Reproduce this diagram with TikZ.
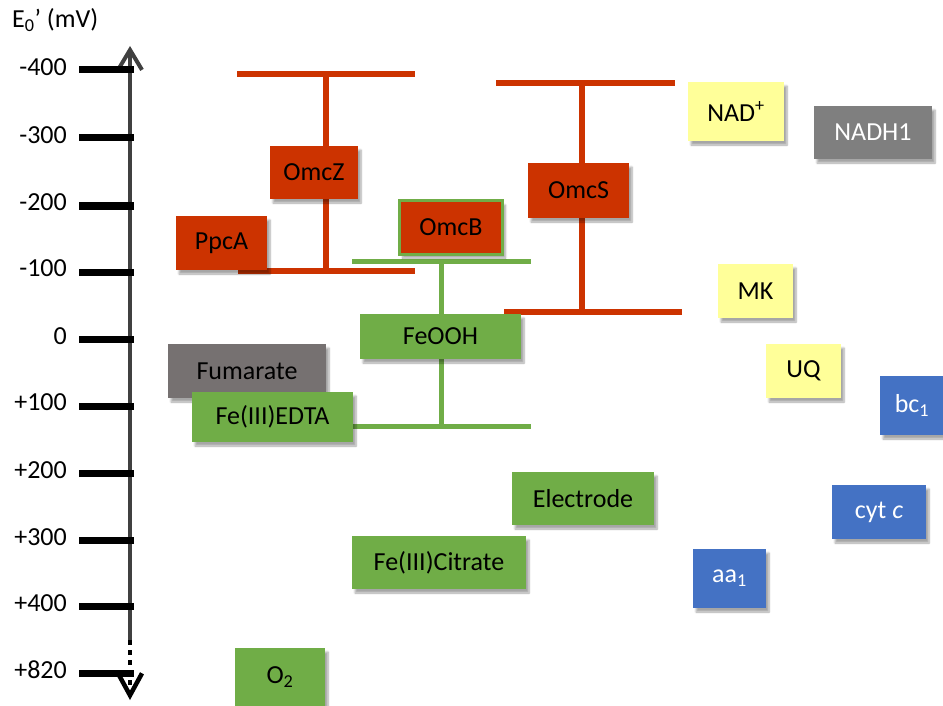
\documentclass[tikz,border=0pt]{standalone}
\usepackage{fontspec}
\setmainfont{Carlito}
\usetikzlibrary{arrows.meta,shadows.blur}
\definecolor{cred}{RGB}{204,51,0}
\definecolor{cgreen}{RGB}{112,173,71}
\definecolor{cyellow}{RGB}{255,255,153}
\definecolor{cgray}{RGB}{127,127,127}
\definecolor{cwarm}{RGB}{118,113,113}
\definecolor{cblue}{RGB}{68,114,196}
\definecolor{caxis}{RGB}{64,64,64}
\tikzset{
  box/.style={rectangle, inner sep=0pt, font=\fontsize{26}{30}\selectfont,
    blur shadow={shadow xshift=3pt, shadow yshift=-4pt, shadow opacity=35, shadow blur steps=6}},
  redbox/.style={box, fill=cred, text=black},
  greenbox/.style={box, fill=cgreen, text=black},
  yellowbox/.style={box, fill=cyellow, text=black},
  graybox/.style={box, fill=cgray, text=white},
  warmbox/.style={box, fill=cwarm, text=black},
  bluebox/.style={box, fill=cblue, text=white},
  redbar/.style={draw=cred, line width=5.5pt},
  greenbar/.style={draw=cgreen, line width=5pt},
  tick/.style={draw=black, line width=7pt},
  ticklabel/.style={anchor=east, inner sep=0pt, font=\fontsize{26}{30}\selectfont}
}
\begin{document}
\begin{tikzpicture}[x=1pt,y=1pt]
\useasboundingbox (0,0) rectangle (943,-706);

% axis title
\node[anchor=west, inner sep=0pt, font=\fontsize{26}{30}\selectfont] (title) at (12,-20) {E\textsubscript{0}’ (mV)};

% axis
\coordinate (axbase) at (130,-640);
\coordinate (axtop) at (130,-46);
\coordinate (axbot) at (130,-700);
\draw[draw=caxis, line width=4pt, -{Straight Barb[length=20pt,width=24pt]}] (axbase) -- (axtop);
\draw[draw=black, line width=4.5pt, dash pattern=on 5pt off 5pt, -{Straight Barb[length=22pt,width=24pt]}] (axbase) -- (axbot);

% ticks and labels
\foreach \lab/\ty/\ly/\nm in {-400/70/67/a,-300/138/135/b,-200/206/202/c,-100/272/268/d,0/339/336/e,+100/406/402/f,+200/473/470/g,+300/540/537/h,+400/606/603/i,+820/673/670/j}{
  \coordinate (t\nm l) at (79,-\ty);
  \coordinate (t\nm r) at (134,-\ty);
  \draw[tick] (t\nm l) -- (t\nm r);
  \node[ticklabel] (lab\nm) at (67,-\ly) {\lab};
}

% OmcZ bar
\coordinate (zt1) at (237,-74);  \coordinate (zt2) at (415,-74);
\coordinate (zb1) at (238,-271); \coordinate (zb2) at (415,-271);
\coordinate (zm1) at (326,-74);  \coordinate (zm2) at (326,-271);
\draw[redbar] (zt1) -- (zt2);
\draw[redbar] (zb1) -- (zb2);
\draw[redbar] (zm1) -- (zm2);

% OmcS bar
\coordinate (st1) at (496,-83);  \coordinate (st2) at (675,-83);
\coordinate (sb1) at (504,-312); \coordinate (sb2) at (682,-312);
\coordinate (sm1) at (582,-83);  \coordinate (sm2) at (582,-312);
\draw[redbar] (st1) -- (st2);
\draw[redbar] (sb1) -- (sb2);
\draw[redbar] (sm1) -- (sm2);

% green bar
\coordinate (gt1) at (352,-261); \coordinate (gt2) at (531,-261);
\coordinate (gb1) at (325,-426); \coordinate (gb2) at (531,-426);
\coordinate (gm1) at (441,-261); \coordinate (gm2) at (441,-426);
\draw[greenbar] (gt1) -- (gt2);
\draw[greenbar] (gb1) -- (gb2);
\draw[greenbar] (gm1) -- (gm2);

% red boxes
\node[redbox, minimum width=91, minimum height=54] (ppca) at (221.5,-243) {PpcA};
\node[redbox, minimum width=88, minimum height=53] (omcz) at (314,-172.5) {OmcZ};
\node[redbox, minimum width=101, minimum height=55] (omcs) at (578.5,-190.5) {OmcS};
\node[redbox, draw=cgreen, line width=3pt, minimum width=103, minimum height=53] (omcb) at (451,-227.5) {OmcB};

% green and gray boxes
\node[greenbox, minimum width=161, minimum height=45] (feooh) at (440.5,-336.5) {FeOOH};
\node[warmbox, minimum width=158, minimum height=54] (fum) at (247,-371) {Fumarate};
\node[greenbox, minimum width=161, minimum height=50] (edta) at (272.5,-417) {Fe(III)EDTA};
\node[greenbox, minimum width=142, minimum height=53] (elec) at (583,-498.5) {Electrode};
\node[greenbox, minimum width=174, minimum height=53] (cit) at (439,-562.5) {Fe(III)Citrate};
\node[greenbox, minimum width=90, minimum height=58] (o2) at (280,-677) {O\textsubscript{2}};

% yellow boxes
\node[yellowbox, minimum width=96, minimum height=59] (nad) at (736,-111.5) {NAD\textsuperscript{+}};
\node[yellowbox, minimum width=75, minimum height=54] (mk) at (755.5,-291) {MK};
\node[yellowbox, minimum width=75, minimum height=54] (uq) at (803.5,-371) {UQ};

% gray box
\node[graybox, minimum width=118, minimum height=53] (nadh) at (873,-132.5) {NADH1};

% blue boxes
\node[bluebox, minimum width=64, minimum height=59] (bc) at (912,-405.5) {bc\textsubscript{1}};
\node[bluebox, minimum width=94, minimum height=54] (cyt) at (879,-512) {cyt \textit{c}};
\node[bluebox, minimum width=73, minimum height=59] (aa) at (729.5,-578.5) {aa\textsubscript{1}};
\end{tikzpicture}
\end{document}
